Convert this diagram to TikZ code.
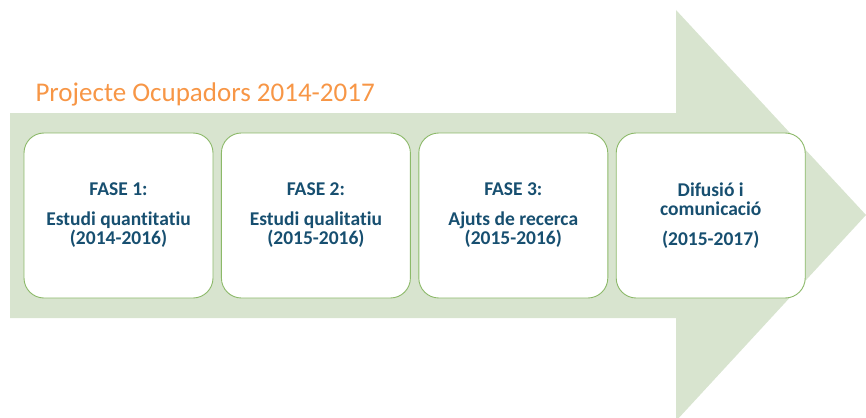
\documentclass[tikz,border=0pt]{standalone}
\usepackage{fontspec}
\setmainfont[Ligatures=NoCommon]{Carlito}
\usepackage{tikz}
\usetikzlibrary{positioning}
\definecolor{arrowgreen}{RGB}{216,228,207}
\definecolor{boxgreen}{RGB}{140,185,105}
\definecolor{titleorange}{RGB}{247,150,70}
\definecolor{textblue}{RGB}{23,79,112}
\tikzset{
    fase/.style={draw=boxgreen, line width=0.9pt, fill=white, rounded corners=20pt, minimum width=189pt, minimum height=165pt, inner sep=0pt, align=center, text=textblue, font=\fontsize{19.5}{19}\selectfont\bfseries}, % caixa de cada fase
    main plot/.style={x=1pt, y=-1pt} % coordenades en pixels, eix y cap avall
}
\begin{document}
\begin{tikzpicture}[main plot]
            \useasboundingbox (0,0) rectangle (866,417);

            \fill[arrowgreen] (10,113) -- (676,113) -- (676,10) -- (866,215) -- (676,421) -- (676,318) -- (10,318) -- cycle;

            \node[anchor=base west, text=titleorange, font=\fontsize{27}{32}\selectfont] (title) at (32,102) {Projecte Ocupadors 2014-2017};

            \node[fase] (f1) at (118.5,215.5) {FASE 1:\\[11pt]Estudi quantitatiu\\(2014-2016)};
            \node[fase, right=7.5pt of f1] (f2) {FASE 2:\\[11pt]Estudi qualitatiu\\(2015-2016)};
            \node[fase, right=7.5pt of f2] (f3) {FASE 3:\\[11pt]Ajuts de recerca\\(2015-2016)};
            \node[fase, right=7.5pt of f3] (f4) {Difusió i\\comunicació\\[11pt](2015-2017)};
        \end{tikzpicture}
\end{document}
